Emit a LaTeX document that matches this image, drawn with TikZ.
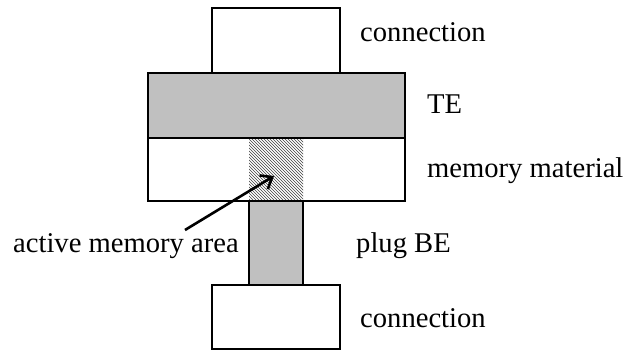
\documentclass[tikz,border=0pt]{standalone}
\usepackage{fontspec}
\setmainfont{Liberation Serif}
\usetikzlibrary{patterns,arrows.meta}
\definecolor{silver}{HTML}{C0C0C0}
\begin{document}
\begin{tikzpicture}[x=1pt,y=-1pt,
  part/.style={draw=black,line width=2.5pt},
  label/.style={anchor=base west,inner sep=0pt,font=\fontsize{28.6}{32}\selectfont},
  pointer/.style={line width=2.6pt,-{Straight Barb[length=10pt,width=16pt,line width=2.6pt]}}]
\useasboundingbox (0,0) rectangle (629,352);
% layer stack
\draw[part,fill=white] (212,8) rectangle (340,74);
\draw[part,fill=silver] (148,73) rectangle (405,138);
\draw[part,fill=white] (148,138) rectangle (405,201);
\fill[pattern=north west lines,pattern color=black!75] (249,139.5) rectangle (303,199.5);
\draw[part,fill=silver] (249,201) rectangle (303,285);
\draw[part,fill=white] (212,285) rectangle (340,349);
% labels
\node[label] (conTop) at (360,42) {connection};
\node[label] (te) at (427,114) {TE};
\node[label] (mem) at (427,178) {memory material};
\node[label] (area) at (13,253) {active memory area};
\node[label] (plug) at (356,253) {plug BE};
\node[label] (conBot) at (360,328) {connection};
\coordinate (tail) at (185,230);
\coordinate (tip) at (274,176);
\draw[pointer] (tail) -- (tip);
\end{tikzpicture}
\end{document}
